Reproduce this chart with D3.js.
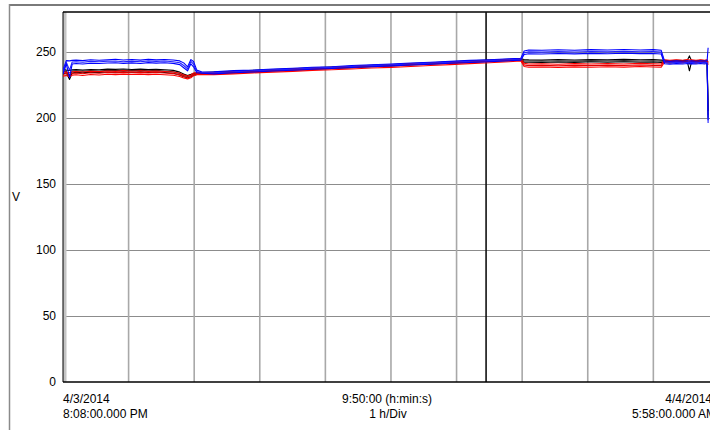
<!DOCTYPE html>
<html><head><meta charset="utf-8">
<script src="https://cdn.jsdelivr.net/npm/d3@7"></script>
<style>
html,body{margin:0;padding:0;background:#fff;}
svg{display:block;}
text{font-family:"Liberation Sans",Arial,sans-serif;font-size:12px;fill:#000;}
</style>
</head><body>
<svg id="chart" width="710" height="430"></svg>
<script>
// ---- data (time in hours since 4/3/2014 8:08:00 PM, voltage in V) ----
const yTicks = [0, 50, 100, 150, 200, 250];
const hourGrid = [1, 2, 3, 4, 5, 6, 7, 8, 9];
const cursorTime = 6.45;
const totalHours = 9.8333;
const xLabels = {start: ["4/3/2014", "8:08:00.000 PM"], mid: ["9:50:00 (h:min:s)", "1 h/Div"], end: ["4/4/2014", "5:58:00.000 AM"]};
const yLabel = "V";

const times = [0, 0.05, 0.1, 0.14, 0.2, 0.3, 0.42, 0.55, 0.68, 0.8, 0.92, 1.05, 1.18, 1.3, 1.42, 1.55, 1.68, 1.78, 1.84, 1.9, 1.95, 1.99, 2.04, 2.12,
  2.3, 2.6, 2.9, 3.2, 3.5, 3.8, 4.1, 4.4, 4.7, 5.0, 5.3, 5.6, 5.9, 6.2, 6.5, 6.8, 6.98,
  7.03, 7.1, 7.3, 7.55, 7.8, 8.05, 8.3, 8.55, 8.8, 9.0, 9.12,
  9.17, 9.25, 9.35, 9.45, 9.52, 9.55, 9.58, 9.65, 9.72, 9.78, 9.82, 9.835];

const blue1 = [236.0, 243.2, 243.0, 243.4, 243.6, 243.2, 243.9, 243.5, 243.8, 244.2, 243.7, 244.0, 243.6, 244.3, 243.8, 244.1, 243.7, 243.0, 241.5, 238.5, 244.0, 242.5, 236.0, 234.6,
  234.8, 235.6, 236.0, 236.9, 237.4, 238.2, 238.6, 239.5, 240.1, 240.7, 241.4, 242.0, 242.6, 243.4, 243.9, 244.6, 245.0,
  250.5, 251.2, 251.0, 251.4, 251.1, 251.5, 251.2, 251.6, 251.3, 251.5, 251.0,
  243.0, 242.6, 243.0, 242.7, 243.1, 242.8, 243.0, 242.7, 243.1, 242.8, 243.2, 253.0];
const blue2 = [234.5, 242.0, 236.0, 242.2, 242.4, 242.0, 242.6, 242.3, 242.7, 242.9, 242.4, 242.8, 242.3, 243.0, 242.6, 242.9, 242.4, 241.6, 239.5, 237.0, 242.6, 240.5, 235.0, 234.2,
  234.0, 234.8, 235.5, 236.2, 236.7, 237.5, 238.1, 238.8, 239.4, 240.0, 240.7, 241.3, 242.0, 242.7, 243.2, 243.9, 244.3,
  249.2, 249.8, 249.6, 250.0, 249.7, 250.1, 249.8, 250.2, 249.9, 250.0, 249.6,
  241.8, 241.5, 241.9, 241.6, 242.0, 241.7, 241.9, 241.6, 242.0, 241.7, 242.0, 196.0];
const blue3 = [233.0, 240.8, 230.5, 240.6, 241.0, 240.7, 241.2, 241.0, 241.4, 241.6, 241.1, 241.5, 241.0, 241.7, 241.3, 241.6, 241.1, 240.2, 237.8, 235.5, 240.8, 238.5, 234.0, 233.6,
  233.2, 234.0, 234.6, 235.4, 235.9, 236.7, 237.3, 238.0, 238.6, 239.2, 239.9, 240.5, 241.2, 241.8, 242.4, 243.1, 243.6,
  247.8, 248.4, 248.2, 248.6, 248.3, 248.7, 248.4, 248.8, 248.5, 248.6, 248.2,
  240.8, 240.5, 240.9, 240.6, 241.0, 240.7, 240.9, 240.6, 241.0, 240.7, 241.0, 198.0];

const black1 = [236.5, 236.0, 235.8, 236.2, 236.4, 236.0, 236.5, 236.3, 236.8, 236.6, 236.9, 236.5, 236.8, 236.4, 236.7, 236.3, 235.8, 234.5, 233.0, 232.0, 232.8, 233.5, 234.0, 234.2,
  234.5, 235.1, 235.8, 236.5, 237.0, 237.8, 238.4, 239.0, 239.7, 240.3, 241.0, 241.6, 242.3, 243.0, 243.6, 244.3, 244.6,
  244.0, 243.8, 243.6, 244.0, 243.7, 244.1, 243.8, 244.2, 243.9, 244.0, 243.6,
  243.4, 243.0, 243.5, 243.2, 243.6, 246.8, 243.4, 243.1, 243.5, 243.2, 243.5, 200.0];
const black2 = [235.0, 235.2, 231.0, 235.3, 235.5, 235.2, 235.6, 235.4, 235.9, 235.7, 236.0, 235.6, 235.9, 235.5, 235.8, 235.4, 234.8, 233.5, 232.0, 231.2, 232.0, 232.8, 233.5, 233.8,
  233.9, 234.5, 235.2, 235.9, 236.5, 237.2, 237.8, 238.5, 239.2, 239.8, 240.5, 241.1, 241.8, 242.4, 243.1, 243.7, 244.1,
  243.0, 242.9, 242.7, 243.1, 242.8, 243.2, 242.9, 243.2, 242.9, 243.1, 242.7,
  242.6, 242.3, 242.7, 242.4, 242.8, 241.0, 242.6, 242.3, 242.7, 242.4, 242.7, 202.0];
const black3 = [233.0, 234.0, 229.0, 233.8, 234.3, 234.0, 234.5, 234.2, 234.6, 234.4, 234.8, 234.4, 234.7, 234.3, 234.6, 234.2, 233.6, 232.3, 231.0, 230.2, 231.0, 232.0, 232.8, 233.2,
  233.3, 233.9, 234.6, 235.3, 235.9, 236.6, 237.2, 237.9, 238.6, 239.2, 239.9, 240.5, 241.2, 241.8, 242.5, 243.1, 243.5,
  242.0, 242.0, 241.8, 242.2, 241.9, 242.3, 242.0, 242.3, 242.0, 242.2, 241.8,
  241.8, 241.5, 241.9, 241.6, 242.0, 235.5, 241.8, 241.5, 241.9, 241.6, 241.9, 205.0];

const red1 = [234.5, 234.6, 234.0, 234.8, 235.0, 234.6, 235.2, 234.9, 235.4, 235.1, 235.6, 235.2, 235.5, 235.1, 235.4, 235.0, 234.6, 233.6, 232.4, 231.6, 232.4, 233.8, 234.2, 234.0,
  234.2, 234.8, 235.5, 236.1, 236.8, 237.4, 238.1, 238.7, 239.5, 240.0, 240.8, 241.4, 242.1, 242.7, 243.5, 244.0, 244.5,
  241.2, 240.6, 240.8, 240.5, 240.9, 240.6, 241.0, 240.7, 241.1, 240.8, 240.6,
  243.8, 243.4, 243.9, 243.5, 244.0, 243.6, 243.8, 243.5, 243.9, 243.5, 243.8, 242.0];
const red2 = [233.0, 233.4, 232.6, 233.5, 233.8, 233.3, 234.0, 233.6, 234.2, 233.9, 234.3, 234.0, 234.3, 233.9, 234.2, 233.8, 233.4, 232.4, 231.2, 230.4, 231.2, 232.8, 233.4, 233.3,
  233.5, 234.1, 234.8, 235.4, 236.0, 236.7, 237.3, 237.9, 238.7, 239.2, 240.0, 240.6, 241.3, 241.9, 242.7, 243.3, 243.8,
  240.0, 239.4, 239.6, 239.3, 239.7, 239.4, 239.8, 239.5, 239.9, 239.6, 239.4,
  242.9, 242.5, 243.0, 242.6, 243.1, 242.7, 242.9, 242.6, 243.0, 242.6, 242.9, 241.0];
const red3 = [231.5, 232.0, 231.2, 232.2, 232.5, 232.0, 232.7, 232.3, 232.9, 232.6, 233.0, 232.7, 233.0, 232.6, 232.9, 232.5, 232.1, 231.2, 230.0, 229.4, 230.2, 231.8, 232.6, 232.6,
  232.6, 233.2, 233.9, 234.5, 235.1, 235.8, 236.3, 236.9, 237.6, 238.1, 238.8, 239.5, 240.2, 240.9, 241.6, 242.4, 243.0,
  238.8, 238.2, 238.4, 238.1, 238.5, 238.2, 238.6, 238.3, 238.7, 238.4, 238.2,
  242.0, 241.6, 242.1, 241.7, 242.2, 241.8, 242.0, 241.7, 242.1, 241.7, 242.0, 240.0];

const seriesList = [
  {values: black1, color: "#000000"}, {values: black2, color: "#2a2a2a"}, {values: black3, color: "#000000"},
  {values: red1, color: "#ff0000"}, {values: red2, color: "#e00000"}, {values: red3, color: "#ff0000"},
  {values: blue1, color: "#0000ff"}, {values: blue2, color: "#2020ff"}, {values: blue3, color: "#0000ff"}
];

// ---- drawing ----
const svg = d3.select("#chart");
const L = 63, T = 12, R = 712, B = 382;
const x = d3.scaleLinear().domain([0, totalHours]).range([L, 708]);
const y = d3.scaleLinear().domain([0, 280]).range([B, T]);

// outer frame
svg.append("line").attr("x1", 9).attr("x2", 712).attr("y1", 5).attr("y2", 5).attr("stroke", "#7a7a7a").attr("stroke-width", 2);
svg.append("line").attr("x1", 9.5).attr("x2", 9.5).attr("y1", 4).attr("y2", 430).attr("stroke", "#8a8a8a").attr("stroke-width", 1.5);

// horizontal grid
svg.append("g").selectAll("line").data(yTicks.filter(d => d > 0)).join("line")
  .attr("x1", L).attr("x2", R).attr("y1", d => Math.round(y(d)) + 0.5).attr("y2", d => Math.round(y(d)) + 0.5)
  .attr("stroke", "#8c8c8c").attr("stroke-width", 1);
// vertical grid
svg.append("g").selectAll("line").data(hourGrid).join("line")
  .attr("x1", d => x(d)).attr("x2", d => x(d)).attr("y1", T).attr("y2", B)
  .attr("stroke", "#a8a8a8").attr("stroke-width", 1.6);

// left gray strip and borders
svg.append("rect").attr("x", L).attr("y", T).attr("width", 3.5).attr("height", B - T).attr("fill", "#c4c4c4");
svg.append("line").attr("x1", L).attr("x2", L).attr("y1", T).attr("y2", B).attr("stroke", "#000").attr("stroke-width", 1);
svg.append("line").attr("x1", L).attr("x2", R).attr("y1", T).attr("y2", T).attr("stroke", "#000").attr("stroke-width", 1.5);

// cursor
svg.append("line").attr("x1", x(cursorTime)).attr("x2", x(cursorTime)).attr("y1", T).attr("y2", B)
  .attr("stroke", "#111").attr("stroke-width", 1.6);

// clip
svg.append("clipPath").attr("id", "clip").append("rect").attr("x", L).attr("y", T).attr("width", R - L).attr("height", B - T);

const line = d3.line().x((d, i) => x(times[i])).y(d => y(d));
const lg = svg.append("g").attr("clip-path", "url(#clip)");
seriesList.forEach(s => {
  const n = Math.min(s.values.length, times.length);
  lg.append("path").datum(s.values.slice(0, n)).attr("d", line)
    .attr("fill", "none").attr("stroke", s.color).attr("stroke-width", 1.1).attr("stroke-linejoin", "round");
});

// bottom axis line
svg.append("line").attr("x1", L).attr("x2", R).attr("y1", B).attr("y2", B).attr("stroke", "#000").attr("stroke-width", 1.6);

// y axis labels
const yAxis = svg.append("g").attr("transform", `translate(${L},0)`)
  .call(d3.axisLeft(y).tickValues(yTicks).tickSize(0).tickPadding(7));
yAxis.select(".domain").remove();
yAxis.selectAll("text").style("font-family", "'Liberation Sans', Arial, sans-serif").style("font-size", "12px").attr("fill", "#000");

svg.append("text").attr("x", 16).attr("y", 201).attr("text-anchor", "middle").text(yLabel);

// x labels
svg.append("text").attr("x", L).attr("y", 403).text(xLabels.start[0]);
svg.append("text").attr("x", L).attr("y", 418).text(xLabels.start[1]);
svg.append("text").attr("x", 387).attr("y", 403).attr("text-anchor", "middle").text(xLabels.mid[0]);
svg.append("text").attr("x", 388).attr("y", 418).attr("text-anchor", "middle").text(xLabels.mid[1]);
svg.append("text").attr("x", 712).attr("y", 403).attr("text-anchor", "end").text(xLabels.end[0]);
svg.append("text").attr("x", 716).attr("y", 418).attr("text-anchor", "end").text(xLabels.end[1]);
</script>
</body></html>
